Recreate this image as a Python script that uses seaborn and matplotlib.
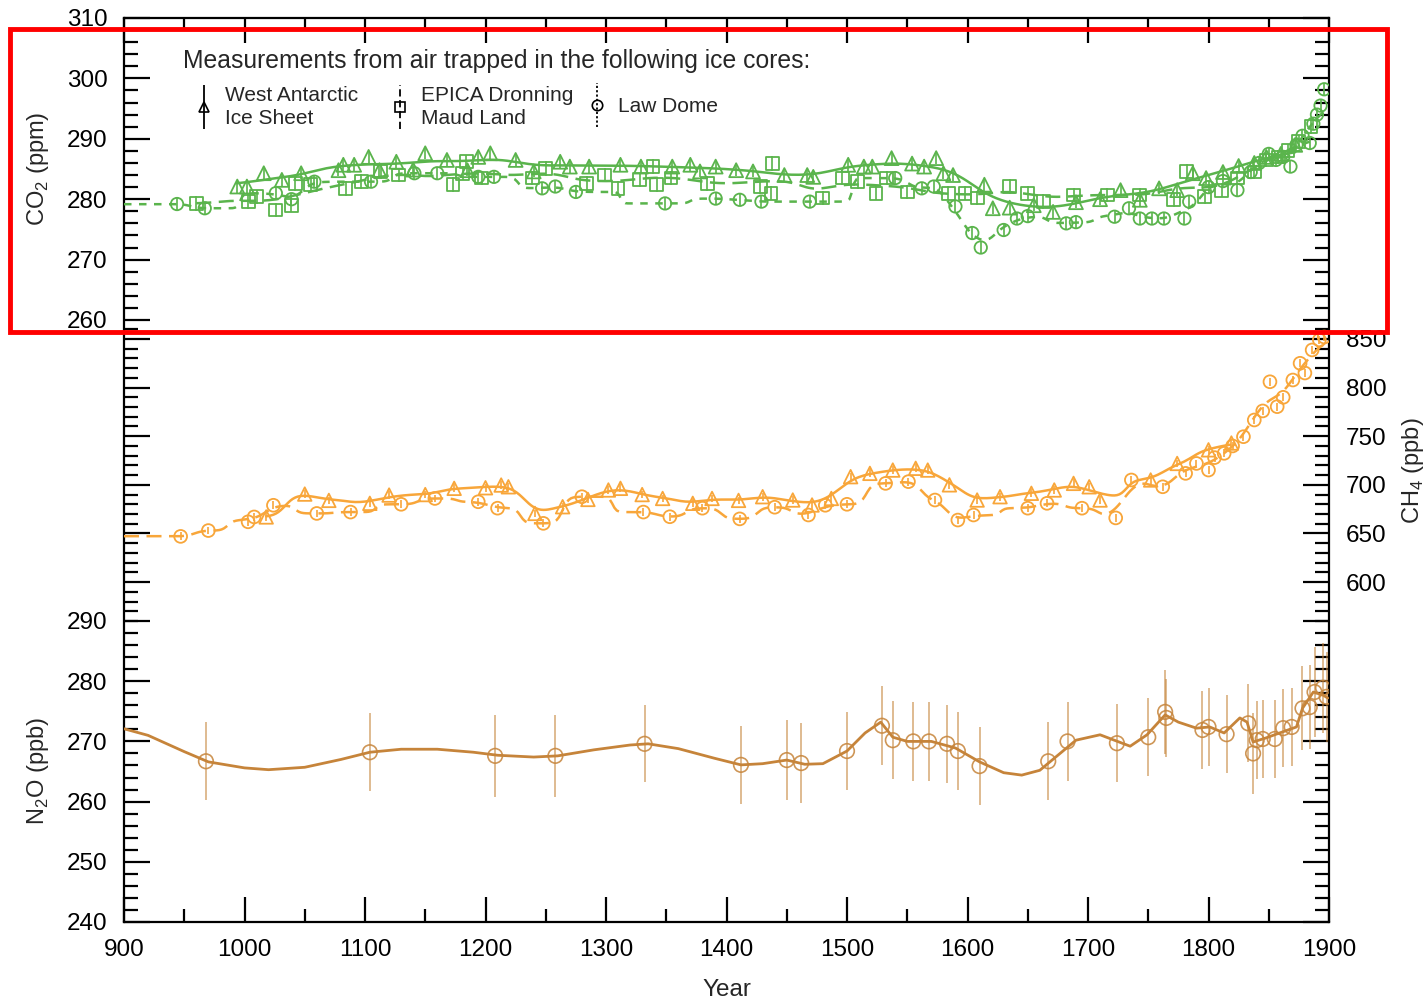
import numpy as np
import matplotlib
matplotlib.use("Agg")
import matplotlib.pyplot as plt
import seaborn as sns
from matplotlib.container import ErrorbarContainer
from matplotlib.legend import Legend
from matplotlib.legend_handler import HandlerErrorbar
from matplotlib.ticker import MultipleLocator
from matplotlib.patches import Rectangle


# ---- CO2 (ppm), West Antarctic Ice Sheet (triangles) ----
co2_wais_year = [994, 1002, 1016, 1031, 1047, 1078, 1082, 1091, 1103, 1112, 1126, 1140, 1150, 1168, 1185,
                 1194, 1204, 1225, 1240, 1262, 1270, 1286, 1312, 1329, 1355, 1370, 1378, 1391, 1408, 1422,
                 1448, 1467, 1472, 1501, 1514, 1521, 1537, 1554, 1564, 1574, 1580, 1588, 1614, 1621, 1635,
                 1655, 1671, 1690, 1710, 1727, 1743, 1759, 1774, 1787, 1798, 1812, 1825, 1838, 1848, 1860, 1872]
co2_wais = [282.1, 282.1, 284.3, 283.2, 284.3, 284.8, 285.7, 285.7, 287.0, 284.8, 286.2, 284.9, 287.6, 286.5, 284.8,
            287.0, 287.6, 286.5, 284.6, 286.2, 285.4, 285.4, 285.7, 285.4, 285.4, 285.7, 284.6, 285.4, 284.8, 284.6,
            284.0, 284.0, 283.7, 285.7, 285.4, 285.4, 286.8, 285.9, 285.4, 286.8, 284.3, 284.0, 282.4, 278.5, 278.6,
            279.0, 277.9, 279.5, 280.0, 281.5, 279.9, 281.8, 281.5, 284.3, 283.5, 284.5, 285.5, 286.0, 287.0, 287.5, 289.0]

# ---- CO2 (ppm), EPICA Dronning Maud Land (squares) ----
co2_edml_year = [960, 1003, 1010, 1026, 1039, 1042, 1055, 1084, 1097, 1113, 1128, 1173, 1181, 1184, 1197,
                 1239, 1250, 1284, 1299, 1310, 1328, 1339, 1342, 1354, 1384, 1428, 1437, 1438, 1480, 1496,
                 1509, 1524, 1533, 1550, 1584, 1598, 1608, 1635, 1650, 1663, 1688, 1716, 1743, 1771, 1782,
                 1797, 1811, 1824, 1838, 1848, 1858, 1866, 1875, 1885]
co2_edml = [279.3, 279.6, 280.4, 278.2, 279.0, 282.6, 282.4, 281.8, 282.9, 284.6, 284.0, 282.4, 284.3, 286.2, 283.5,
            283.5, 285.1, 282.6, 284.0, 281.8, 283.2, 285.4, 282.4, 283.5, 282.6, 282.1, 281.0, 285.9, 280.2, 283.5,
            282.9, 281.0, 283.5, 281.2, 281.0, 281.0, 280.2, 282.1, 281.0, 279.6, 280.7, 280.7, 280.7, 279.9, 284.6,
            280.4, 281.5, 283.5, 284.5, 286.5, 287.0, 288.0, 289.5, 292.0]

# ---- CO2 (ppm), Law Dome (circles) ----
co2_ld_year = [944, 967, 1026, 1039, 1058, 1105, 1141, 1160, 1194, 1207, 1247, 1258, 1275, 1349, 1391,
               1411, 1429, 1469, 1540, 1562, 1572, 1590, 1604, 1611, 1630, 1641, 1650, 1682, 1690, 1722,
               1734, 1743, 1753, 1763, 1780, 1784, 1800, 1812, 1824, 1835, 1842, 1850, 1856, 1862, 1868,
               1873, 1878, 1884, 1887, 1890, 1893, 1896]
co2_ld = [279.2, 278.5, 281.0, 280.0, 282.9, 282.9, 284.3, 284.3, 283.7, 283.7, 281.8, 282.1, 281.2, 279.3, 280.1,
          279.9, 279.6, 279.6, 283.5, 281.8, 282.1, 278.8, 274.4, 272.0, 274.9, 276.8, 277.2, 276.0, 276.2, 277.1,
          278.5, 276.8, 276.8, 276.8, 276.8, 279.6, 282.0, 283.0, 281.5, 284.5, 286.0, 287.5, 286.5, 287.0, 285.4,
          289.0, 290.5, 289.3, 292.5, 294.0, 295.5, 298.2]

# ---- CH4 (ppb), West Antarctic Ice Sheet (triangles) ----
ch4_wais_year = [1018, 1050, 1070, 1104, 1120, 1150, 1174, 1200, 1213, 1219, 1241, 1264, 1285, 1302, 1312,
                 1330, 1347, 1372, 1388, 1410, 1430, 1455, 1471, 1487, 1503, 1519, 1538, 1557, 1567, 1585,
                 1608, 1627, 1653, 1672, 1688, 1701, 1710, 1752, 1774, 1800, 1819]
ch4_wais = [667, 690.5, 684, 681, 689.5, 690, 696.4, 697, 699.8, 698, 670.6, 677.5, 685, 694.7, 696.4,
            690, 686, 681, 686, 684, 687.8, 684.4, 679.3, 686, 708.4, 711.8, 715.2, 717, 715.2, 700,
            684.4, 687.8, 691.3, 694.7, 701.5, 698, 684.4, 705, 722, 736, 743]

# ---- CH4 (ppb), Law Dome (circles) ----
ch4_ld_year = [947, 970, 1003, 1008, 1024, 1060, 1088, 1130, 1158, 1194, 1210, 1248, 1280, 1331, 1353,
               1380, 1411, 1440, 1468, 1482, 1500, 1532, 1551, 1573, 1592, 1605, 1650, 1666, 1695, 1723,
               1736, 1762, 1781, 1790, 1800, 1805, 1813, 1820, 1829, 1838, 1845, 1851, 1857, 1862, 1870,
               1876, 1880, 1886, 1892, 1896]
ch4_ld = [647, 653, 662, 667, 679, 670.6, 672, 680, 686, 682.6, 676, 660.4, 687.8, 672, 667.2,
          676, 665, 677, 669, 679, 680, 701.5, 703.3, 684.4, 663.8, 669, 676, 681, 676, 666,
          705, 698, 711.8, 722, 715.2, 728, 732.4, 740, 749.5, 766.7, 776, 806, 780.4, 790, 807.8,
          825, 815, 838.7, 849, 852]

# ---- N2O (ppb), Law Dome ----
n2o_year = [968, 1104, 1208, 1258, 1332, 1412, 1450, 1462, 1500, 1529, 1538, 1555, 1568, 1583, 1592,
            1610, 1667, 1683, 1724, 1750, 1764, 1765, 1795, 1800, 1815, 1833, 1837, 1840, 1845, 1855,
            1862, 1869, 1878, 1884, 1888, 1895, 1898]
n2o = [266.7, 268.2, 267.6, 267.6, 269.6, 266.1, 266.9, 266.4, 268.4, 272.6, 270.2, 270.0, 270.0, 269.6, 268.4,
       265.9, 266.7, 270.0, 269.7, 270.7, 274.9, 273.9, 271.9, 272.4, 271.2, 273.0, 268.0, 270.2, 270.4, 270.4,
       272.2, 272.4, 275.5, 275.7, 278.2, 278.9, 277.4]
n2o_err = [6.5, 6.5, 6.8, 6.8, 6.4, 6.5, 6.6, 6.6, 6.5, 6.6, 6.5, 6.5, 6.5, 6.5, 6.5,
           6.5, 6.5, 6.5, 6.5, 6.5, 7.0, 6.5, 6.5, 6.5, 6.5, 6.5, 6.7, 6.5, 6.5, 6.5,
           6.5, 6.5, 7.0, 7.0, 7.5, 7.5, 7.5]
# spline fit through the N2O record
n2o_fit_year = [900, 920, 950, 970, 1000, 1020, 1050, 1080, 1104, 1130, 1160, 1190, 1210, 1240, 1260,
                1290, 1320, 1335, 1360, 1390, 1412, 1430, 1450, 1465, 1480, 1500, 1515, 1528, 1538, 1550,
                1570, 1590, 1610, 1630, 1645, 1660, 1675, 1690, 1710, 1735, 1749, 1764, 1775, 1790, 1801,
                1813, 1826, 1832, 1837, 1848, 1859, 1873, 1878, 1887, 1895, 1899]
n2o_fit = [272.1, 271.0, 268.3, 266.6, 265.6, 265.3, 265.7, 267.0, 268.2, 268.7, 268.7, 268.2, 267.7, 267.4, 267.6,
           268.6, 269.4, 269.6, 268.8, 267.2, 266.1, 266.3, 266.9, 266.2, 266.3, 268.4, 271.4, 273.2, 270.7, 270.0,
           270.0, 268.9, 266.6, 264.8, 264.4, 265.2, 267.7, 270.2, 271.1, 269.2, 271.1, 274.4, 273.2, 272.2, 272.4,
           271.4, 273.9, 273.2, 269.9, 270.6, 271.4, 272.4, 275.5, 278.2, 277.7, 277.2]

GREEN = "#5ab44c"
ORANGE = "#f8a63a"
BROWN = "#c6843a"


def smooth(years, vals, bw):
    # gaussian kernel smoother through the measurements (stands in for the spline fit)
    x = np.asarray(years, float)
    v = np.asarray(vals, float)
    grid = np.arange(x.min(), x.max() + 1, 2.0)
    w = np.exp(-0.5 * ((grid[:, None] - x[None, :]) / bw) ** 2)
    return grid, (w * v).sum(1) / w.sum(1)


def draw_record(ax, years, vals, err, marker, size, color, ls, bw, start=None):
    ax.errorbar(years, vals, yerr=err, fmt="none", ecolor=color, elinewidth=1.2, capsize=0, zorder=2)
    gx, gy = smooth(years, vals, bw)
    if start is not None:
        gx = np.concatenate([[start], gx])
        gy = np.concatenate([[gy[0]], gy])
    sns.lineplot(x=gx, y=gy, ax=ax, color=color, linewidth=1.8, linestyle=ls, zorder=3)
    sns.scatterplot(x=years, y=vals, ax=ax, marker=marker, s=size, facecolors="none",
                    edgecolor=color, linewidth=1.3, zorder=4)


sns.set_style("ticks")
plt.rcParams["font.family"] = ["Liberation Sans", "DejaVu Sans"]
plt.rcParams["mathtext.fontset"] = "custom"
plt.rcParams["mathtext.rm"] = "Liberation Sans"

W, H = 1428, 1000
L, R = 124, 1329


def rect(top, bot):
    return [L / W, 1 - bot / H, (R - L) / W, (bot - top) / H]


fig = plt.figure(figsize=(14.28, 10), dpi=100)
frame = fig.add_axes(rect(18, 922))
ax_co2 = fig.add_axes(rect(18, 320))
ax_ch4 = fig.add_axes(rect(320, 621))
ax_n2o = fig.add_axes(rect(621, 922))

# outer frame with the year axis
frame.set_xlim(900, 1900)
frame.set_ylim(0, 1)
frame.set_yticks([])
for s in frame.spines.values():
    s.set_linewidth(1.6)
    s.set_color("black")
frame.xaxis.set_major_locator(MultipleLocator(100))
frame.xaxis.set_minor_locator(MultipleLocator(50))
frame.tick_params(axis="x", which="both", direction="in", top=True, bottom=True, width=1.6, colors="black")
frame.tick_params(axis="x", which="major", length=18, pad=12, labelsize=17.5)
frame.tick_params(axis="x", which="minor", length=9.5)
frame.set_xlabel("Year", fontsize=17.5, labelpad=13)


def style_panel(ax, lo, hi, major, minor, side):
    ax.set_xlim(900, 1900)
    ax.set_ylim(lo, hi)
    ax.patch.set_alpha(0)
    for s in ax.spines.values():
        s.set_visible(False)
    ax.set_xticks([])
    ax.set_xlabel("")
    ax.yaxis.set_major_locator(MultipleLocator(major))
    ax.yaxis.set_minor_locator(MultipleLocator(minor))
    ax.tick_params(axis="y", which="both", direction="in", left=True, right=True,
                   labelleft=(side == "left"), labelright=(side == "right"), width=1.6, colors="black")
    ax.tick_params(axis="y", which="major", length=19, pad=12, labelsize=17.5)
    ax.tick_params(axis="y", which="minor", length=10)


def place_ylabel(ax, text, x_px):
    ax.set_ylabel(text, fontsize=17, rotation=90)
    ax.yaxis.set_label_coords((x_px - L) / (R - L), 0.5)
    ax.yaxis.label.set_va("center")
    ax.yaxis.label.set_ha("center")


# CO2 panel
draw_record(ax_co2, co2_edml_year, co2_edml, 1.2, "s", 85, GREEN, (0, (6, 3)), 18)
draw_record(ax_co2, co2_wais_year, co2_wais, 1.0, "^", 100, GREEN, "-", 20)
draw_record(ax_co2, co2_ld_year, co2_ld, 1.0, "o", 80, GREEN, (0, (3, 3)), 9, start=900)
style_panel(ax_co2, 260, 310, 10, 2, "left")
place_ylabel(ax_co2, "CO$_\\mathregular{2}$ (ppm)", 38)

# CH4 panel
draw_record(ax_ch4, ch4_wais_year, ch4_wais, 4, "^", 95, ORANGE, "-", 12)
draw_record(ax_ch4, ch4_ld_year, ch4_ld, 4, "o", 85, ORANGE, (0, (6, 3)), 9, start=900)
style_panel(ax_ch4, 560, 869.5, 50, 10, "right")
ax_ch4.yaxis.set_label_position("right")
place_ylabel(ax_ch4, "CH$_\\mathregular{4}$ (ppb)", 1413)

# N2O panel
ax_n2o.errorbar(n2o_year, n2o, yerr=n2o_err, fmt="none", ecolor=BROWN, elinewidth=1.3,
                alpha=0.6, capsize=0, zorder=2)
sns.lineplot(x=n2o_fit_year, y=n2o_fit, ax=ax_n2o, color=BROWN, linewidth=2.0, zorder=3)
sns.scatterplot(x=n2o_year, y=n2o, ax=ax_n2o, marker="o", s=110, facecolors="none",
                edgecolor=BROWN, linewidth=1.2, alpha=0.85, zorder=4)
style_panel(ax_n2o, 240, 290, 10, 2, "left")
place_ylabel(ax_n2o, "N$_\\mathregular{2}$O (ppb)", 38)

# legend for the ice cores
ax_co2.text((183 - L) / (R - L), 1 - (61 - 18) / 302, "Measurements from air trapped in the following ice cores:",
            transform=ax_co2.transAxes, fontsize=17.8, va="center", ha="left")
entries = [("^", "-", "West Antarctic\nIce Sheet", 204),
           ("s", (0, (4, 2)), "EPICA Dronning\nMaud Land", 400),
           ("o", (0, (1.2, 1.2)), "Law Dome", 597)]
for mk, ls, lab, cx in entries:
    eb = ax_co2.errorbar([], [], yerr=[], fmt=mk, ms=7.5, mfc="none", mec="black", mew=1.2,
                         ecolor="black", elinewidth=1.3, capsize=0, label=lab)
    eb[2][0].set_linestyle(ls)
    leg = Legend(ax_co2, [eb], [lab], loc="center left", frameon=False, fontsize=15,
                 bbox_to_anchor=((cx - 10.4 - L) / (R - L), 1 - (107 - 18) / 302),
                 bbox_transform=ax_co2.transAxes, borderpad=0, borderaxespad=0,
                 handlelength=1.0, handletextpad=0.5,
                 handler_map={ErrorbarContainer: HandlerErrorbar(yerr_size=1.05)})
    for t in leg.get_texts():
        t.set_linespacing(1.25)
    ax_co2.add_artist(leg)

# red highlight box round the CO2 panel
fig.add_artist(Rectangle((10 / W, 1 - 332 / H), (1387 - 10) / W, (332 - 29) / H, transform=fig.transFigure,
                         fill=False, edgecolor="#ff0000", linewidth=3.5, zorder=10))

fig.savefig("out.png", dpi=100)
